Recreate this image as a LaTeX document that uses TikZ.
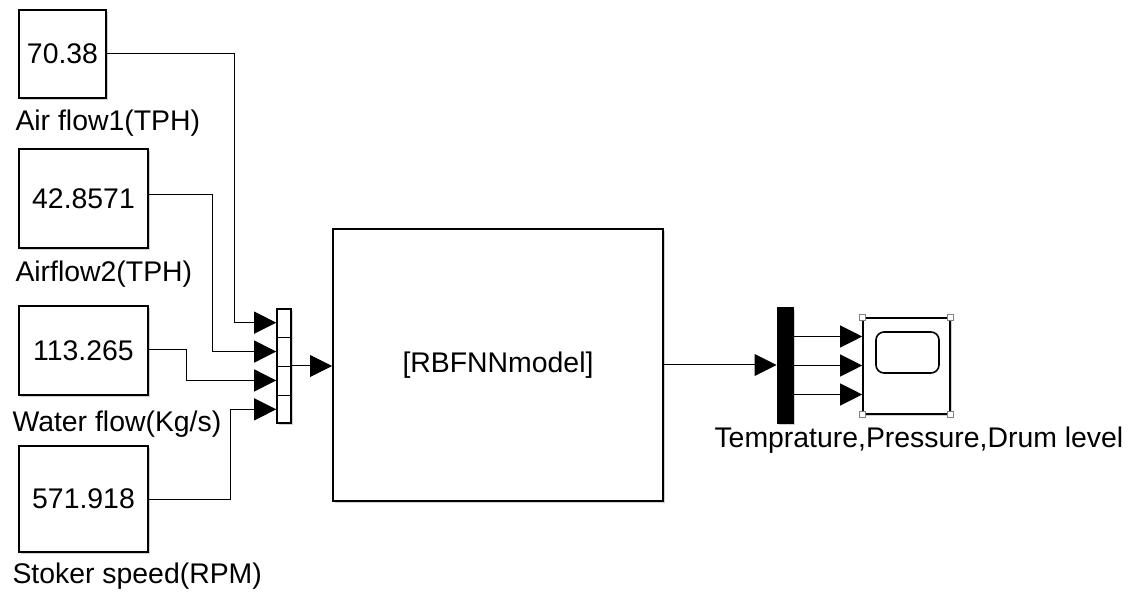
\documentclass[tikz,border=0pt]{standalone}
\usepackage{fontspec}
\setmainfont{Liberation Sans}
\usetikzlibrary{arrows.meta,calc,shadows}

\tikzset{every picture/.style={line width=0.75pt}}
\tikzset{
  blk/.style={draw, line width=1.5pt, fill=white, inner sep=0pt, font=\fontsize{21.3}{25}\selectfont,
    drop shadow={shadow xshift=1.5pt, shadow yshift=-1.5pt, fill=black!40, opacity=0.45}},
  sig/.style={-{Triangle[length=16.5pt,width=16.5pt]}},
  lbl/.style={anchor=base west, inner sep=0pt, font=\fontsize{21.3}{25}\selectfont},
  hdl/.style={draw=gray, fill=white, line width=0.6pt, minimum size=4.5pt, inner sep=0pt}
}

\begin{document}
\begin{tikzpicture}[x=0.75pt,y=0.75pt,yscale=-1,xscale=1]
\useasboundingbox (0,0) rectangle (1132,595);

%Shape: Rectangle [constants]
\node[blk, minimum width=65.25pt, minimum height=66pt] (airA) at (62.5,54) {70.38};
\node[blk, minimum width=96.75pt, minimum height=74.25pt] (airB) at (83.5,198.5) {42.8571};
\node[blk, minimum width=96.75pt, minimum height=66.75pt] (water) at (83.5,350.5) {113.265};
\node[blk, minimum width=96.75pt, minimum height=79.5pt] (stoker) at (83.5,499) {571.918};

% Text Node
\node[lbl] (airAlbl) at (15,131) {Air flow1(TPH)};
% Text Node
\node[lbl] (airBlbl) at (15,281.5) {Airflow2(TPH)};
% Text Node
\node[lbl] (waterlbl) at (12,431.5) {Water flow(Kg/s)};
% Text Node
\node[lbl] (stokerlbl) at (12,583) {Stoker speed(RPM)};

%Shape: Rectangle [mux]
\node[blk, line width=1.2pt, minimum width=10.5pt, minimum height=85.5pt] (mux) at (284,366) {};
\foreach \f in {0.25,0.5,0.75}
  \draw [line width=0.6pt] ($(mux.north west)!\f!(mux.south west)$) -- ($(mux.north east)!\f!(mux.south east)$);
\foreach \i/\f in {1/0.125,2/0.375,3/0.625,4/0.875}
  \coordinate (m\i) at ($(mux.north west)!\f!(mux.south west)$);

%Shape: Rectangle [model]
\node[blk, minimum width=247.5pt, minimum height=204pt] (model) at (498,365) {[RBFNNmodel]};

%Shape: Rectangle [demux]
\node[draw, fill=black, inner sep=0pt, minimum width=12pt, minimum height=86.25pt,
  drop shadow={shadow xshift=1.5pt, shadow yshift=-1.5pt, fill=black!40, opacity=0.45}] (demux) at (785,365.5) {};

%Shape: Rectangle [scope]
\node[blk, line width=1.2pt, minimum width=65.25pt, minimum height=72pt] (scope) at (906.5,366) {};
\node[draw, line width=1.2pt, rounded corners=6pt, inner sep=0pt, minimum width=47.25pt, minimum height=30.75pt] (screen) at (907.5,352.5) {};
\foreach \a in {north west,north east,south west,south east}
  \node[hdl] (hdl \a) at (scope.\a) {};

% Text Node
\node[lbl] (outlbl) at (714,447) {Temprature,Pressure,Drum level};

%Straight Lines [signals]
\draw [sig] (airA.east) -- ++(127,0) |- (m1);
\draw [sig] ([yshift=-3pt]airB.east) -- ++(63,0) |- (m2);
\draw [sig] ([yshift=-1pt]water.east) -- ++(37,0) |- (m3);
\draw [sig] (stoker.east) -- ++(81,0) |- (m4);
\draw [sig] (mux.east) -- (mux.east -| model.west);
\draw [sig] (model.east) -- (model.east -| demux.west);
\foreach \i/\f in {1/0.25,2/0.5,3/0.75} {
  \coordinate (d\i) at ($(demux.north east)!\f!(demux.south east)$);
  \draw [sig] (d\i) -- (d\i -| scope.west);
}

\end{tikzpicture}
\end{document}
